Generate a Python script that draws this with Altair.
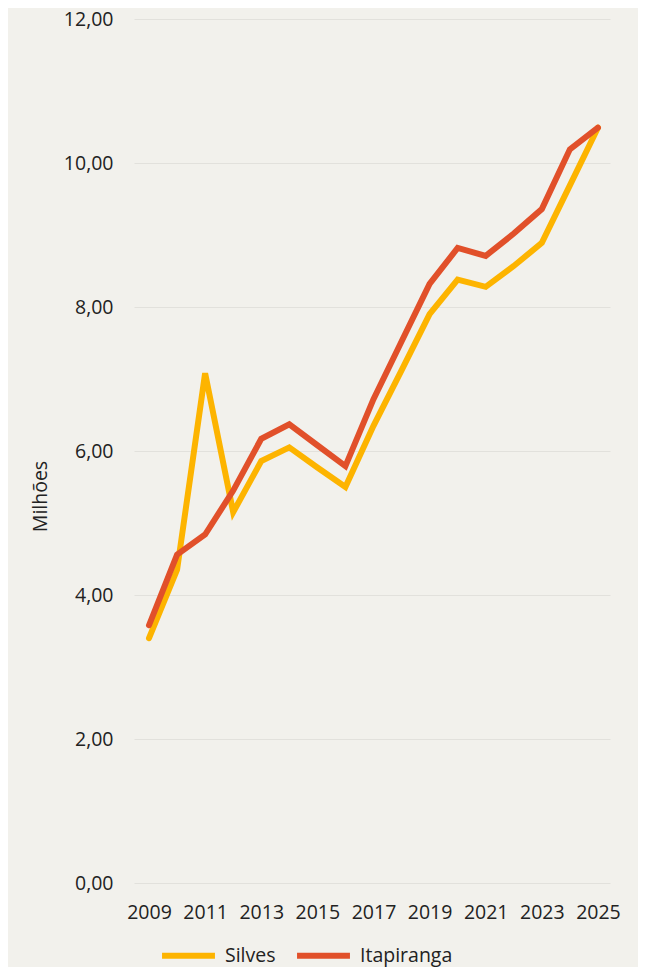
import altair as alt
import pandas as pd

years = list(range(2009, 2026))
silves = [3.40, 4.35, 7.08, 5.15, 5.86, 6.05, 5.77, 5.50, 6.35, 7.12, 7.90, 8.38, 8.28, 8.57, 8.89, 9.69, 10.49]
itapiranga = [3.58, 4.56, 4.84, 5.45, 6.17, 6.37, 6.08, 5.79, 6.72, 7.52, 8.32, 8.82, 8.71, 9.02, 9.36, 10.19, 10.49]
series = ["Silves", "Itapiranga"]
colors = ["#FDB400", "#E1502A"]
x_ticks = [2009, 2011, 2013, 2015, 2017, 2019, 2021, 2023, 2025]
y_ticks = [0, 2, 4, 6, 8, 10, 12]

rows = []
for name, vals in zip(series, [silves, itapiranga]):
    for yr, v in zip(years, vals):
        rows.append({"Ano": yr, "Valor": v, "Municipio": name})
df = pd.DataFrame(rows)

FONT = "Open Sans"
FS = 19.5

chart = alt.Chart(df).mark_line(strokeWidth=6, strokeCap="round", strokeJoin="miter").encode(
    x=alt.X("Ano:Q",
            scale=alt.Scale(domain=[2008.465, 2025.43], nice=False, zero=False),
            axis=alt.Axis(values=x_ticks, format="d", grid=False, domain=False, ticks=False,
                          labelPadding=20, labelFontSize=FS, labelColor="#222222",
                          labelFont=FONT, title=None, labelOverlap=False)),
    y=alt.Y("Valor:Q",
            scale=alt.Scale(domain=[0, 12], nice=False),
            axis=alt.Axis(values=y_ticks, labelExpr="replace(format(datum.value, '.2f'), '.', ',')",
                          grid=True, gridColor="#E2E1DC", gridWidth=1.2, domain=False, ticks=False,
                          labelPadding=21, labelFontSize=FS, labelColor="#222222", labelFont=FONT,
                          title="Milhões", titleFont=FONT, titleFontSize=FS, titleFontWeight="normal",
                          titleColor="#222222", titleX=-94, titleY=477, titleAngle=-90,
                          titleBaseline="middle", titleAlign="center")),
    color=alt.Color("Municipio:N",
                    scale=alt.Scale(domain=series, range=colors),
                    legend=alt.Legend(title=None, orient="none", direction="horizontal",
                                      legendX=25, legendY=907,
                                      symbolType="stroke", symbolStrokeWidth=6, symbolSize=2800,
                                      labelFontSize=FS, labelFont=FONT, labelColor="#222222",
                                      labelOffset=7, columnPadding=9, padding=0)),
    order=alt.Order("Ano:Q"),
).properties(
    width=476, height=864,
    autosize=alt.AutoSizeParams(type="none"),
    padding={"left": 126, "top": 11, "right": 28, "bottom": 84},
    background="#F2F1EC",
).configure_view(stroke=None)

chart.save("out.html", embed_options={"renderer": "svg", "actions": False})
